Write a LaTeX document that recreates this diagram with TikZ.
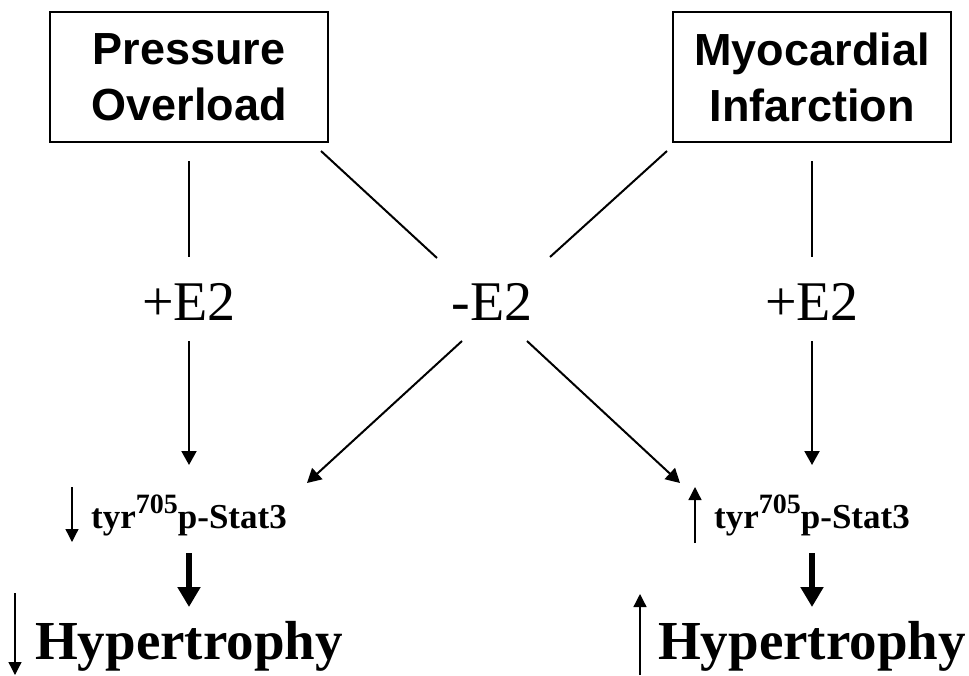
\documentclass[tikz,border=0pt]{standalone}
\usepackage{fontspec}
\setmainfont{Liberation Serif}
\newfontfamily\arialfont{Liberation Sans}
\usetikzlibrary{arrows.meta}
\begin{document}
\begin{tikzpicture}[x=1pt,y=-1pt,
  box/.style={draw, line width=1.5pt, minimum width=278pt, minimum height=130pt, inner sep=0pt,
    font=\arialfont\bfseries\fontsize{45}{56}\selectfont, align=center},
  e2/.style={font=\fontsize{56}{56}\selectfont, anchor=base, inner sep=0pt},
  stat/.style={font=\bfseries\fontsize{35}{35}\selectfont, anchor=base, inner sep=0pt},
  hyp/.style={font=\bfseries\fontsize{55}{55}\selectfont, anchor=base, inner sep=0pt},
  link/.style={line width=2pt},
  arr/.style={line width=2pt, -{Triangle[width=15pt,length=14pt]}},
  thinarr/.style={line width=1.3pt, -{Triangle[width=13pt,length=13pt]}},
  fatarr/.style={line width=6pt, -{Triangle[width=22pt,length=20pt]}},
]
\useasboundingbox (0,0) rectangle (969,675);

\node[box] (po) at (189,77) {Pressure\\Overload};
\node[box] (mi) at (812,77) {Myocardial\\Infarction};

\node[e2] (pl) at (189,320) {+E2};
\node[e2] (me) at (492,320) {-E2};
\node[e2] (pr) at (812,320) {+E2};

\node[stat] (sl) at (189,528) {tyr\raisebox{15pt}{\fontsize{28}{28}\selectfont 705}p-Stat3};
\node[stat] (sr) at (812,528) {tyr\raisebox{15pt}{\fontsize{28}{28}\selectfont 705}p-Stat3};

\node[hyp] (hl) at (189,659) {Hypertrophy};
\node[hyp] (hr) at (812,659) {Hypertrophy};

% coordinates for connector ends
\coordinate (a1) at (189,161); \coordinate (a2) at (189,257);
\coordinate (a3) at (189,341); \coordinate (a4) at (189,465);
\coordinate (b1) at (321,151); \coordinate (b2) at (437,258);
\coordinate (b3) at (462,341); \coordinate (b4) at (307,483);
\coordinate (c1) at (667,151); \coordinate (c2) at (550,257);
\coordinate (c3) at (527,341); \coordinate (c4) at (680,483);
\coordinate (d1) at (812,161); \coordinate (d2) at (812,257);
\coordinate (d3) at (812,341); \coordinate (d4) at (812,465);

\draw[link] (a1) -- (a2);
\draw[arr] (a3) -- (a4);
\draw[link] (b1) -- (b2);
\draw[arr] (b3) -- (b4);
\draw[link] (c1) -- (c2);
\draw[arr] (c3) -- (c4);
\draw[link] (d1) -- (d2);
\draw[arr] (d3) -- (d4);

% small indicator arrows
\coordinate (s1) at (72,487); \coordinate (s2) at (72,542);
\coordinate (t1) at (695,543); \coordinate (t2) at (695,487);
\draw[thinarr] (s1) -- (s2);
\draw[thinarr] (t1) -- (t2);

\coordinate (u1) at (15,593); \coordinate (u2) at (15,675);
\coordinate (v1) at (640,675); \coordinate (v2) at (640,594);
\draw[thinarr] (u1) -- (u2);
\draw[thinarr] (v1) -- (v2);

% thick arrows
\coordinate (f1) at (189,553); \coordinate (f2) at (189,607);
\coordinate (g1) at (812,553); \coordinate (g2) at (812,607);
\draw[fatarr] (f1) -- (f2);
\draw[fatarr] (g1) -- (g2);
\end{tikzpicture}
\end{document}
